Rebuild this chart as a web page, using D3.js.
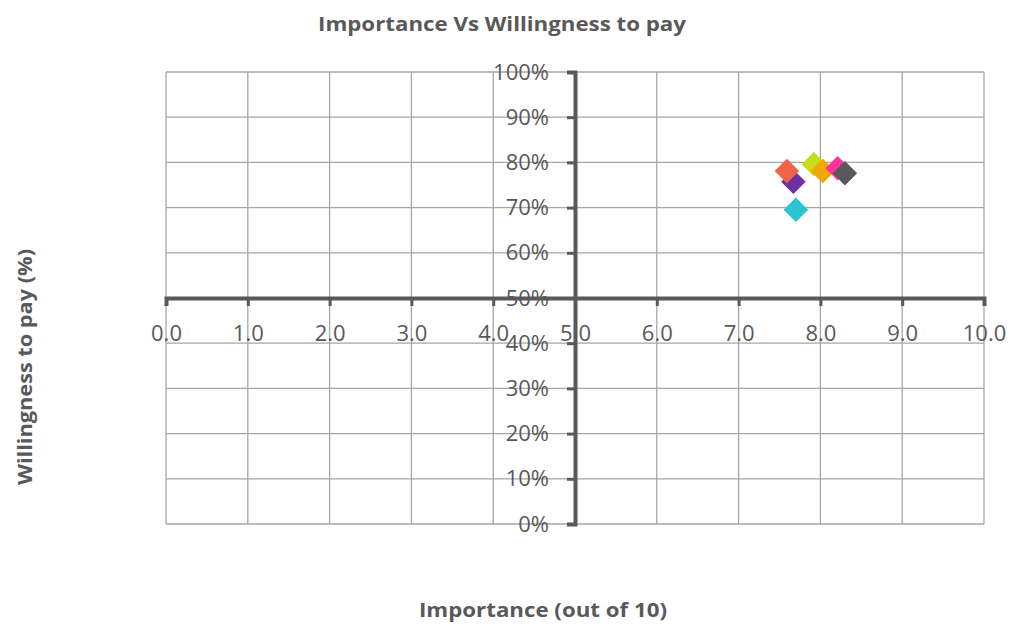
<!DOCTYPE html>
<html><head><meta charset="utf-8">
<script src="https://cdn.jsdelivr.net/npm/d3@7"></script>
<style>body{margin:0;background:#fff}text{font-family:"Open Sans",sans-serif}</style>
</head><body><svg id="c" width="1010" height="624"></svg>
<script>
const names = ["P1","P2","P3","P4","P5","P6","P7"];
const importance = [7.67, 7.59, 7.92, 8.03, 8.21, 8.30, 7.70];
const willingness = [75.7, 78.1, 79.6, 78.1, 78.7, 77.6, 69.5];
const colors = ["#7030a0","#f0644a","#c8dc1e","#f0a800","#ff3399","#595959","#2bc4d2"];
const xTicks = [0,1,2,3,4,5,6,7,8,9,10];
const yTicks = [0,10,20,30,40,50,60,70,80,90,100];

const svg = d3.select("#c");
const x = d3.scaleLinear().domain([0,10]).range([166,984]);
const y = d3.scaleLinear().domain([0,100]).range([524,72]);
const grid = "#a6a6a6", axc = "#595959";

svg.append("g").selectAll("line").data(xTicks).join("line")
  .attr("x1",d=>x(d)).attr("x2",d=>x(d)).attr("y1",y(100)).attr("y2",y(0))
  .attr("stroke",grid).attr("stroke-width",1.3);
svg.append("g").selectAll("line").data(yTicks).join("line")
  .attr("x1",x(0)).attr("x2",x(10)).attr("y1",d=>y(d)).attr("y2",d=>y(d))
  .attr("stroke",grid).attr("stroke-width",1.3);

// x axis at y=50
const xa = svg.append("g").attr("transform",`translate(0,${y(50)})`)
  .call(d3.axisBottom(x).tickValues(xTicks).tickFormat(d3.format(".1f")).tickSize(8).tickPadding(19));
xa.select(".domain").attr("stroke",axc).attr("stroke-width",4);
xa.selectAll(".tick line").attr("stroke",axc).attr("stroke-width",3);
xa.selectAll(".tick text").attr("fill",axc).style("font-size","22px").style("font-family","Open Sans");

const ya = svg.append("g").attr("transform",`translate(${x(5)},0)`)
  .call(d3.axisLeft(y).tickValues(yTicks).tickFormat(d=>d+"%").tickSize(8).tickPadding(18));
ya.select(".domain").attr("stroke",axc).attr("stroke-width",4);
ya.selectAll(".tick line").attr("stroke",axc).attr("stroke-width",3);
ya.selectAll(".tick text").attr("fill",axc).style("font-size","22px").style("font-family","Open Sans");

const sym = d3.symbol().type(d3.symbolSquare).size(300);
svg.append("g").selectAll("path").data(names).join("path")
  .attr("d",sym)
  .attr("transform",(d,i)=>`translate(${x(importance[i])},${y(willingness[i])}) rotate(45)`)
  .attr("fill",(d,i)=>colors[i]);

svg.append("text").attr("x",502).attr("y",31).attr("text-anchor","middle")
  .attr("fill",axc).style("font-size","20px").style("font-weight","bold")
  .attr("textLength",368).attr("lengthAdjust","spacingAndGlyphs").text("Importance Vs Willingness to pay");
svg.append("text").attr("x",543).attr("y",617).attr("text-anchor","middle")
  .attr("fill",axc).style("font-size","20px").style("font-weight","bold")
  .attr("textLength",248).attr("lengthAdjust","spacingAndGlyphs").text("Importance (out of 10)");
svg.append("text").attr("transform","translate(32,367) rotate(-90)").attr("text-anchor","middle")
  .attr("fill",axc).style("font-size","20px").style("font-weight","bold")
  .attr("textLength",236).attr("lengthAdjust","spacingAndGlyphs").text("Willingness to pay (%)");
</script></body></html>
